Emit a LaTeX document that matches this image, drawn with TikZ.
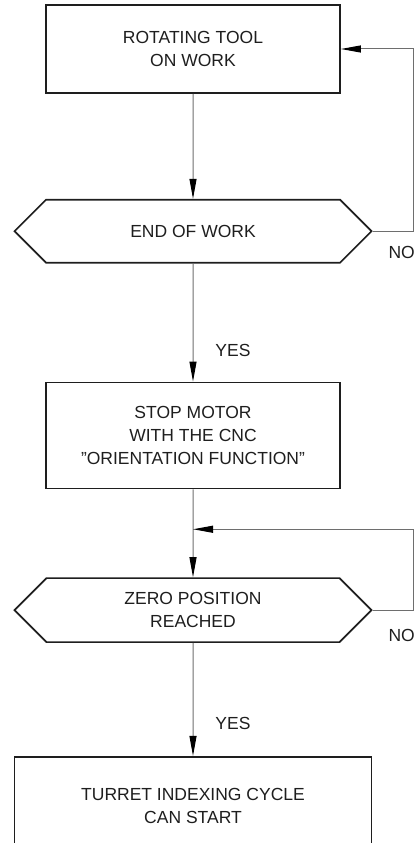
\documentclass[tikz,border=0pt]{standalone}
\usepackage{fontspec}
\setmainfont{Liberation Sans}
\usetikzlibrary{arrows.meta,positioning,shapes.symbols}
\definecolor{ink}{HTML}{1E1E1E}
\definecolor{wire}{HTML}{6E6E6E}
\tikzset{
  stepbox/.style={draw=ink,line width=1.7pt,rectangle,minimum width=294pt,minimum height=88pt,align=center,text=ink,inner sep=0pt},
  decision/.style={draw=ink,line width=1.7pt,shape=signal,signal to=west and east,signal pointer angle=90,minimum width=357pt,minimum height=63pt,align=center,text=ink,inner sep=0pt},
  flow/.style={-{Triangle[length=20pt,width=7pt,color=black]},draw=wire,line width=1pt},
  lbl/.style={text=ink,inner sep=0pt}
}

\begin{document}
\begin{tikzpicture}[x=1pt,y=-1pt,node distance=105pt,font=\fontsize{17.5}{23}\selectfont]
\useasboundingbox (0,0) rectangle (420,843);
\clip (0,0) rectangle (420,843);

\node[stepbox] (tool) at (193,49) {ROTATING TOOL\\ON WORK};
\node[decision,below=105pt of tool] (endwork) {END OF WORK};
\node[stepbox,minimum height=106pt,below=118pt of endwork] (stop) {STOP MOTOR\\WITH THE CNC\\\char"22 ORIENTATION FUNCTION\char"22};
\node[decision,minimum height=64pt,below=88pt of stop] (zero) {ZERO POSITION\\REACHED};
\node[stepbox,minimum width=357pt,minimum height=98pt,below=113pt of zero] (turret) {TURRET INDEXING CYCLE\\CAN START};

\node[lbl] (no1) at ([xshift=29pt,yshift=-21pt]endwork.east) {NO};
\node[lbl] (yes1) at ([xshift=40pt,yshift=31pt]stop.north) {YES};
\node[lbl] (no2) at ([xshift=29pt,yshift=-25pt]zero.east) {NO};
\node[lbl] (yes2) at ([xshift=40pt,yshift=32pt]turret.north) {YES};

\coordinate (join) at ([yshift=-40pt]stop.south);

% main flow
\draw[flow] (tool) -- (endwork);
\draw[flow] (endwork) -- (stop);
\draw[flow] (stop) -- (zero);
\draw[flow] (zero) -- (turret);

% loops back on NO
\draw[flow] (endwork.east) -- ++(41,0) |- (tool.east);
\draw[flow] (zero.east) -- ++(41,0) |- (join);

\end{tikzpicture}
\end{document}
